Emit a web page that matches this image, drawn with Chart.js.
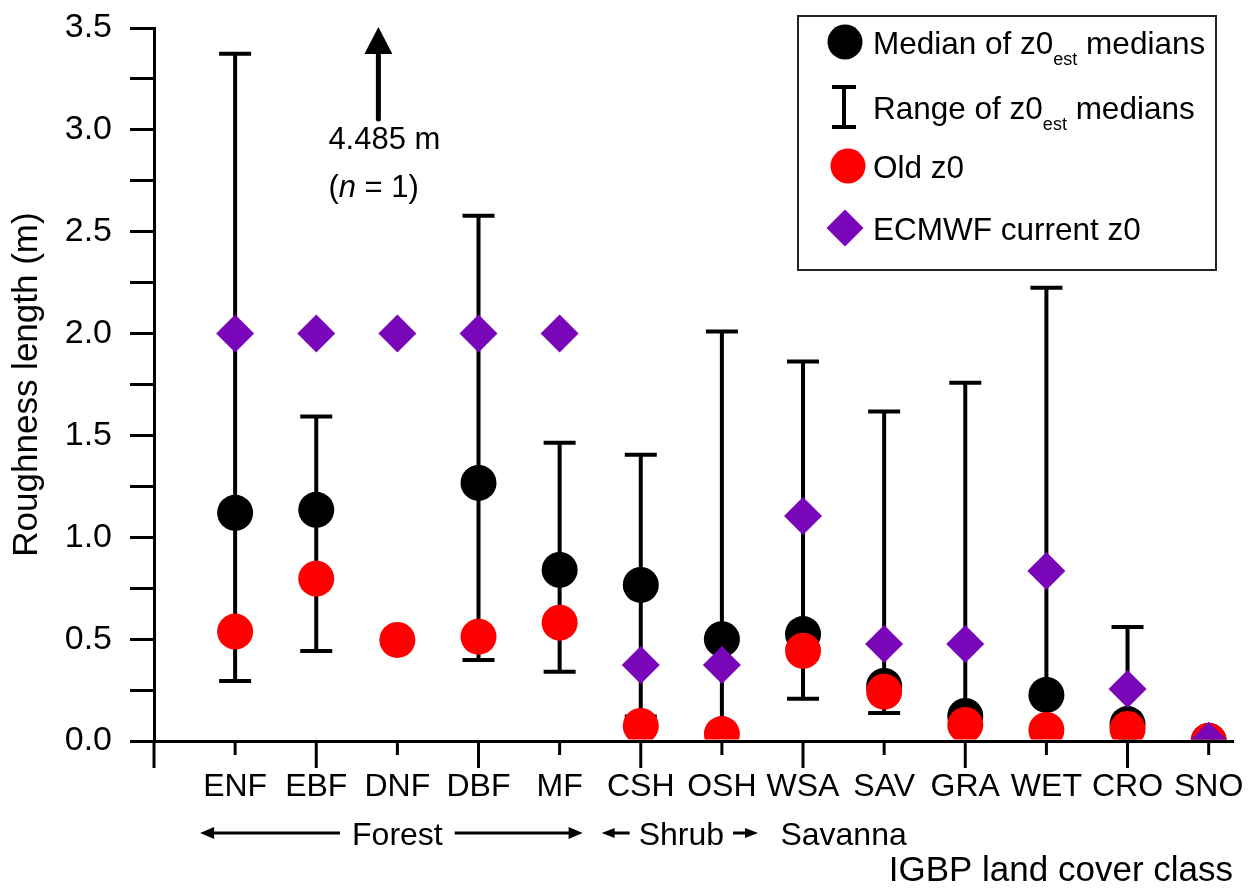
<!DOCTYPE html>
<html>
<head>
<meta charset="utf-8">
<title>Roughness length by IGBP land cover class</title>
<script src="https://cdn.jsdelivr.net/npm/chart.js@4.4.1/dist/chart.umd.min.js"></script>
<style>
  html, body { margin: 0; padding: 0; background: #ffffff; }
  #wrap { width: 1253px; height: 889px; }
</style>
</head>
<body>
<div id="wrap"><canvas id="c" width="1253" height="889"></canvas></div>
<script>
// ---- data -------------------------------------------------------------
const categories = ['ENF', 'EBF', 'DNF', 'DBF', 'MF', 'CSH', 'OSH', 'WSA', 'SAV', 'GRA', 'WET', 'CRO', 'SNO'];

// median of the per-site z0_est medians (DNF has a single site above the axis range)
const medianOfMedians = [1.12, 1.135, 4.485, 1.267, 0.84, 0.766, 0.50, 0.525, 0.27, 0.123, 0.226, 0.083, 0.0];
// range of the per-site z0_est medians
const rangeMin = [0.295, 0.442, null, 0.398, 0.34, 0.12, 0.02, 0.208, 0.137, 0.05, 0.05, 0.03, null];
const rangeMax = [3.374, 1.593, null, 2.578, 1.464, 1.405, 2.01, 1.863, 1.617, 1.758, 2.225, 0.56, null];
// previous z0 table
const oldZ0 = [0.537, 0.797, 0.496, 0.512, 0.581, 0.074, 0.034, 0.443, 0.242, 0.079, 0.054, 0.059, 0.001];
// ECMWF current z0
const ecmwfZ0 = [2.0, 2.0, 2.0, 2.0, 2.0, 0.373, 0.373, 1.105, 0.476, 0.476, 0.835, 0.255, 0.001];

// number of sites behind the off-scale DNF median
const offScaleSites = [null, null, 1, null, null, null, null, null, null, null, null, null, null];

const yTickValues = [0.0, 0.5, 1.0, 1.5, 2.0, 2.5, 3.0, 3.5];
const yTickLabels = ['0.0', '0.5', '1.0', '1.5', '2.0', '2.5', '3.0', '3.5'];
const yMinorStep = 0.25;

const groupNames = ['Forest', 'Shrub', 'Savanna'];
const groupFirst = ['ENF', 'CSH', 'WSA'];
const groupLast = ['MF', 'OSH', 'SAV'];

// ---- styling ----------------------------------------------------------
const FONT = "'Liberation Sans', Arial, Helvetica, sans-serif";
const COL_MEDIAN = '#000000';
const COL_OLD = '#ff0000';
const COL_ECMWF = '#7a06b9';

Chart.defaults.font.family = FONT;
Chart.defaults.color = '#000000';

const clipBottom = { left: 0, top: 0, right: 0, bottom: -1.5 };
const asPoints = arr => arr.map((v, i) => ({ x: i + 1, y: v }));

// ---- plugins ----------------------------------------------------------
// vertical range bars with end caps, drawn beneath the markers
const rangeBars = {
  id: 'rangeBars',
  beforeDatasetsDraw(chart) {
    const { ctx, chartArea: a, scales: { x, y } } = chart;
    ctx.save();
    ctx.beginPath();
    ctx.rect(a.left, a.top, a.right - a.left, a.bottom - a.top);
    ctx.clip();
    ctx.strokeStyle = '#000';
    ctx.lineWidth = 4;
    ctx.lineCap = 'butt';
    rangeMin.forEach((lo, i) => {
      const hi = rangeMax[i];
      if (lo == null || hi == null) return;
      const px = x.getPixelForValue(i + 1);
      const y0 = y.getPixelForValue(lo);
      const y1 = y.getPixelForValue(hi);
      ctx.beginPath();
      ctx.moveTo(px, y0); ctx.lineTo(px, y1);
      ctx.moveTo(px - 16, y0); ctx.lineTo(px + 16, y0);
      ctx.moveTo(px - 16, y1); ctx.lineTo(px + 16, y1);
      ctx.stroke();
    });
    ctx.restore();
  }
};

function arrow(ctx, xTail, xTip, yy, head, half) {
  const dir = Math.sign(xTip - xTail);
  ctx.beginPath();
  ctx.moveTo(xTail, yy);
  ctx.lineTo(xTip - dir * head * 0.8, yy);
  ctx.stroke();
  ctx.beginPath();
  ctx.moveTo(xTip, yy);
  ctx.lineTo(xTip - dir * head, yy - half);
  ctx.lineTo(xTip - dir * head, yy + half);
  ctx.closePath();
  ctx.fill();
}

function drawRich(ctx, parts, x, baseline, size) {
  let cx = x;
  parts.forEach(p => {
    if (p.sub) {
      ctx.font = `18px ${FONT}`;
      ctx.fillText(p.t, cx, baseline + 11);
    } else {
      ctx.font = `${p.italic ? 'italic ' : ''}${size}px ${FONT}`;
      ctx.fillText(p.t, cx, baseline);
    }
    cx += ctx.measureText(p.t).width;
  });
}

const decorations = {
  id: 'decorations',
  afterDraw(chart) {
    const { ctx, chartArea: a, scales: { x, y } } = chart;
    ctx.save();
    ctx.fillStyle = '#000';
    ctx.strokeStyle = '#000';

    // x-axis tick marks: long on even positions, short on odd
    ctx.lineWidth = 3;
    x.ticks.forEach(t => {
      const px = x.getPixelForValue(t.value);
      const len = t.value % 2 === 0 ? 27 : 14;
      ctx.beginPath();
      ctx.moveTo(px, a.bottom);
      ctx.lineTo(px, a.bottom + len);
      ctx.stroke();
    });

    // group labels under the class names
    ctx.font = `32px ${FONT}`;
    ctx.textAlign = 'center';
    ctx.textBaseline = 'alphabetic';
    const gy = 845, ay = 833;
    groupNames.forEach((g, gi) => {
      const p0 = x.getPixelForValue(categories.indexOf(groupFirst[gi]) + 1);
      const p1 = x.getPixelForValue(categories.indexOf(groupLast[gi]) + 1);
      const cx = (p0 + p1) / 2;
      const w = ctx.measureText(g).width;
      ctx.fillText(g, cx, gy);
      ctx.lineWidth = 3;
      if (g === 'Forest') {
        arrow(ctx, cx - w / 2 - 12, p0 - 35, ay, 14, 6);
        arrow(ctx, cx + w / 2 + 12, p1 + 23, ay, 14, 6);
      } else if (g === 'Shrub') {
        arrow(ctx, cx - w / 2 - 9, cx - w / 2 - 37, ay, 13, 5);
        arrow(ctx, cx + w / 2 + 9, cx + w / 2 + 34, ay, 13, 5);
      }
    });

    // off-scale medians: arrow to the top of the axis with the value
    const yMaxPx = y.getPixelForValue(y.max);
    medianOfMedians.forEach((v, i) => {
      if (v == null || v <= y.max) return;
      const px = x.getPixelForValue(i + 1) - 19;
      ctx.lineWidth = 5;
      ctx.lineCap = 'round';
      ctx.beginPath();
      ctx.moveTo(px, yMaxPx + 91);
      ctx.lineTo(px, yMaxPx + 22);
      ctx.stroke();
      ctx.beginPath();
      ctx.moveTo(px, yMaxPx - 1);
      ctx.lineTo(px - 14, yMaxPx + 26);
      ctx.lineTo(px + 14, yMaxPx + 26);
      ctx.closePath();
      ctx.fill();
      ctx.textAlign = 'left';
      const tx = px - 50;
      drawRich(ctx, [{ t: `${v} m` }], tx, yMaxPx + 121, 31);
      drawRich(ctx, [{ t: '(' }, { t: 'n', italic: true }, { t: ` = ${offScaleSites[i]})` }], tx, yMaxPx + 169, 31);
    });

    // legend box
    const L = { left: 798, top: 16, right: 1216, bottom: 270 };
    ctx.lineWidth = 2;
    ctx.strokeStyle = '#222';
    ctx.lineCap = 'butt';
    ctx.strokeRect(L.left, L.top, L.right - L.left, L.bottom - L.top);
    ctx.textAlign = 'left';
    ctx.fillStyle = '#000';
    const ds = chart.data.datasets;
    const byLabel = lbl => ds.find(d => d.label === lbl);
    const mx = 845, tx = 873;
    const rows = [
      { kind: 'point', set: byLabel('Median of z0est medians'), cy: 42,
        parts: [{ t: 'Median of z0' }, { t: 'est', sub: true }, { t: ' medians' }] },
      { kind: 'range', cy: 107,
        parts: [{ t: 'Range of z0' }, { t: 'est', sub: true }, { t: ' medians' }] },
      { kind: 'point', set: byLabel('Old z0'), cy: 166, dx: 3, parts: [{ t: 'Old z0' }] },
      { kind: 'point', set: byLabel('ECMWF current z0'), cy: 228, parts: [{ t: 'ECMWF current z0' }] }
    ];
    rows.forEach(r => {
      if (r.kind === 'point') {
        ctx.fillStyle = r.set.backgroundColor;
        Chart.helpers.drawPoint(ctx, {
          pointStyle: r.set.pointStyle, radius: r.set.pointRadius - 0.5, rotation: 0, borderWidth: 0
        }, mx + (r.dx || 0), r.cy);
      } else {
        ctx.strokeStyle = '#000';
        ctx.lineWidth = 4;
        ctx.beginPath();
        ctx.moveTo(mx - 1, r.cy - 20); ctx.lineTo(mx - 1, r.cy + 20);
        ctx.moveTo(mx - 13, r.cy - 20); ctx.lineTo(mx + 11, r.cy - 20);
        ctx.moveTo(mx - 13, r.cy + 20); ctx.lineTo(mx + 11, r.cy + 20);
        ctx.stroke();
      }
      ctx.fillStyle = '#000';
      drawRich(ctx, r.parts, tx, r.cy + 12, 31.5);
    });
    ctx.restore();
  }
};

// ---- chart ------------------------------------------------------------
new Chart(document.getElementById('c'), {
  type: 'scatter',
  data: {
    datasets: [
      { label: 'ECMWF current z0', data: asPoints(ecmwfZ0), pointStyle: 'rectRot', pointRadius: 19,
        backgroundColor: COL_ECMWF, borderWidth: 0, order: 1, clip: clipBottom },
      { label: 'Old z0', data: asPoints(oldZ0), pointStyle: 'circle', pointRadius: 18,
        backgroundColor: COL_OLD, borderWidth: 0, order: 2, clip: clipBottom },
      { label: 'Median of z0est medians', data: asPoints(medianOfMedians), pointStyle: 'circle', pointRadius: 18,
        backgroundColor: COL_MEDIAN, borderWidth: 0, order: 3, clip: clipBottom }
    ]
  },
  options: {
    responsive: false,
    animation: false,
    devicePixelRatio: 1,
    layout: { padding: { left: 4, right: 20, top: 28, bottom: 0 } },
    plugins: { legend: { display: false }, tooltip: { enabled: false } },
    elements: { point: { hoverRadius: 18 } },
    scales: {
      x: {
        type: 'linear',
        min: 0,
        max: 13.3,
        afterBuildTicks: s => { s.ticks = [{ value: 0 }].concat(categories.map((c, i) => ({ value: i + 1 }))); },
        afterFit: s => { s.height = 148; },
        grid: { display: true, drawOnChartArea: false, drawTicks: true, tickLength: 27, tickColor: 'rgba(0,0,0,0)' },
        border: { display: true, color: '#000', width: 3 },
        ticks: {
          autoSkip: false, maxRotation: 0, minRotation: 0, padding: 3, color: '#000',
          font: { size: 32, lineHeight: 1 },
          callback: v => categories[v - 1] || ''
        },
        title: {
          display: true, text: 'IGBP land cover class', align: 'end', color: '#000',
          font: { size: 35, lineHeight: 1 }, padding: { top: 0, bottom: 0 }
        }
      },
      y: {
        type: 'linear',
        min: 0,
        max: 3.5,
        afterBuildTicks: s => {
          const t = [];
          for (let k = 0; k * yMinorStep <= 3.5 + 1e-9; k++) t.push({ value: k * yMinorStep });
          s.ticks = t;
        },
        afterFit: s => { s.width = 150; },
        grid: { display: true, drawOnChartArea: false, drawTicks: true, tickLength: 24, tickWidth: 3, tickColor: '#000' },
        border: { display: true, color: '#000', width: 3 },
        ticks: {
          autoSkip: false, padding: 18, color: '#000',
          font: { size: 34, lineHeight: 0.4 },
          callback: v => { const i = yTickValues.indexOf(v); return i >= 0 ? yTickLabels[i] : ''; }
        },
        title: {
          display: true, text: 'Roughness length (m)', color: '#000',
          font: { size: 35, lineHeight: 1 }, padding: { top: 6, bottom: 0 }
        }
      }
    }
  },
  plugins: [rangeBars, decorations]
});
</script>
</body>
</html>
